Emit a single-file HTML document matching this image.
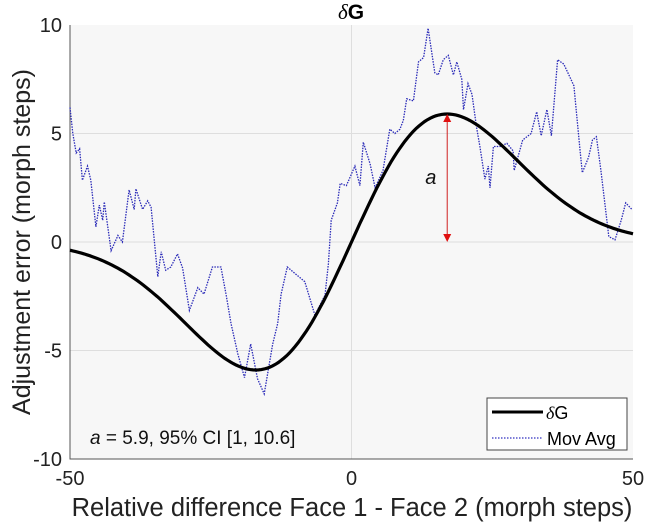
<!DOCTYPE html>
<html><head><meta charset="utf-8"><style>
html,body{margin:0;padding:0;background:#fff;}
svg{display:block;font-family:"Liberation Sans",sans-serif;}
</style></head><body>
<svg id="chart" width="645" height="530" viewBox="0 0 645 530">
<rect x="70" y="25" width="563" height="434" fill="#f7f7f7"/>
<g id="grid"></g>
<g id="axes"></g>
<g id="series"></g>
<text x="351" y="19" text-anchor="middle" font-size="21" font-weight="bold"><tspan font-style="italic" font-weight="normal" font-family="'Liberation Serif',serif">δ</tspan>G</text>
<text transform="translate(30,242) rotate(-90)" text-anchor="middle" font-size="25" fill="#222">Adjustment error (morph steps)</text>
<text x="352" y="516" text-anchor="middle" font-size="25.5" fill="#222">Relative difference Face 1 - Face 2 (morph steps)</text>
<text x="90" y="444" font-size="19" fill="#111"><tspan font-style="italic">a</tspan> = 5.9, 95% CI [1, 10.6]</text>
<g>
<rect x="487" y="398" width="140" height="52" fill="#fff" stroke="#444" stroke-width="1"/>
<line x1="492" y1="412" x2="543" y2="412" stroke="#000" stroke-width="3"/>
<text x="546" y="419" font-size="18"><tspan font-style="italic" font-family="'Liberation Serif',serif">δ</tspan>G</text>
<line x1="492" y1="438" x2="543" y2="438" stroke="#3030c0" stroke-width="1.3" stroke-dasharray="1.5,1.5"/>
<text x="547" y="445" font-size="18">Mov Avg</text>
</g>
</svg>
<script>
const xTicks=[-50,0,50];
const yTicks=[-10,-5,0,5,10];
const fitAmplitude=5.9;
const fitSigma=17;
const movX=[-50,-49.5,-48.9,-48.3,-47.8,-46.9,-46.3,-45.4,-44.8,-44.2,-43.9,-42.7,-41.5,-40.7,-39.5,-38.6,-38.3,-37.1,-36.2,-35.6,-34.4,-33.8,-33,-32.1,-30.9,-30,-28.8,-27.3,-26.2,-24.7,-23.2,-22.3,-21.4,-20.2,-19,-17.9,-16.7,-15.5,-14,-13.1,-12.5,-11.4,-8.3,-6.5,-4.7,-4.1,-3.6,-2.5,-2,-0.9,0.6,1.5,2.1,3.3,4.2,5.6,6.8,7.7,8.6,9.2,9.8,11,11.9,12.8,13.6,14.8,15.4,16.3,17.2,18.1,18.7,19.6,19.9,20.7,21.4,22.2,22.8,23.7,24.3,24.6,25.2,26.4,27.6,28.7,28.9,30.4,31.9,32.9,33.7,34.7,35.5,36.6,37.7,38.8,39.5,40.6,41,42.1,42.8,43.5,44.3,45.7,46.8,47.9,48.7,49.8];
const movY=[6.2,5.0,4.1,4.3,2.85,3.5,2.85,0.7,1.7,1.0,1.85,-0.4,0.3,0,2.4,1.5,2.45,1.5,1.9,1.6,-1.6,-0.45,-1.3,-1.15,-0.55,-1.2,-3.15,-2.1,-2.4,-1.15,-1.15,-2.4,-3.75,-5.15,-6.25,-4.7,-6.3,-7.0,-4.7,-3.75,-2.4,-1.15,-1.83,-3.37,-2.45,-1.0,1.0,1.8,2.7,2.6,3.5,2.6,4.6,3.6,2.5,3.3,5.2,5.0,5.2,5.6,6.6,6.5,8.3,8.5,9.85,7.8,7.7,8.4,8.6,7.7,8.3,7.5,6.1,7.3,6.8,5.3,4.4,2.9,3.5,2.5,4.4,4.4,4.55,4.2,3.3,4.7,5.0,6.0,4.9,6.1,4.9,8.4,8.2,7.6,7.2,4.2,3.2,3.9,4.7,4.85,3.3,0.25,0.1,1.0,1.8,1.5];
const L=70,R=633,T=25,B=459;
const sx=v=>L+(v+50)/100*(R-L);
const sy=v=>T+(10-v)/20*(B-T);
const NS='http://www.w3.org/2000/svg';
function mk(tag,attrs,parent){const e=document.createElementNS(NS,tag);for(const k in attrs)e.setAttribute(k,attrs[k]);parent.appendChild(e);return e;}
const grid=document.getElementById('grid'),axes=document.getElementById('axes'),series=document.getElementById('series');
yTicks.forEach(v=>{if(v>-10&&v<10){const g=mk('line',{x1:L,x2:R,y1:sy(v),y2:sy(v),stroke:'#dedede','stroke-width':1},grid);

}
const t=mk('text',{x:L-8,y:sy(v)+7,'text-anchor':'end','font-size':20,fill:'#222'},axes);t.textContent=v;

});
xTicks.forEach(v=>{if(v>-50&&v<50){const g=mk('line',{x1:sx(v),x2:sx(v),y1:T,y2:B,stroke:'#dedede','stroke-width':1},grid);

}
const t=mk('text',{x:sx(v),y:B+26,'text-anchor':'middle','font-size':20,fill:'#222'},axes);t.textContent=v;

});
const ax=mk('path',{d:`M${L},${T}V${B}H${R}`,fill:'none',stroke:'#555','stroke-width':1},axes);


let d='';movX.forEach((x,i)=>{d+=(i?'L':'M')+sx(x).toFixed(1)+','+sy(movY[i]).toFixed(1);});
const mv=mk('path',{d:d,fill:'none',stroke:'#2a2ab8','stroke-width':1.3,'stroke-dasharray':'1.5,1.2'},series);


const c=fitAmplitude/(fitSigma*Math.exp(-0.5));
let d2='';for(let x=-50;x<=50.001;x+=0.5){const y=c*x*Math.exp(-x*x/(2*fitSigma*fitSigma));d2+=(x>-50?'L':'M')+sx(x).toFixed(1)+','+sy(y).toFixed(1);}
const fc=mk('path',{d:d2,fill:'none',stroke:'#000','stroke-width':3.2},series);


const px=sx(fitSigma),y0=sy(0),y1=sy(fitAmplitude);
const ar=mk('g',{},series);


mk('line',{x1:px,x2:px,y1:y1+6,y2:y0-6,stroke:'#d02020','stroke-width':1},ar);
mk('path',{d:`M${px},${y1}l-4,8h8z`,fill:'#e01010'},ar);
mk('path',{d:`M${px},${y0}l-4,-8h8z`,fill:'#e01010'},ar);
const at=mk('text',{x:px-22,y:(y0+y1)/2+6,'font-size':20,'font-style':'italic',fill:'#111'},series);at.textContent='a';


</script>
</body></html>
